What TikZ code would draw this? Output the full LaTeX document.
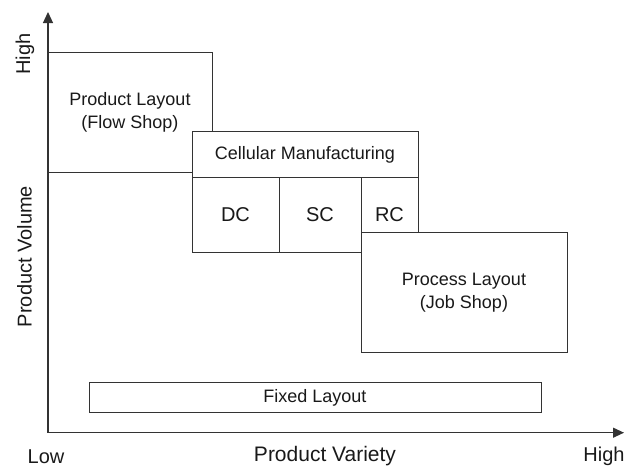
\documentclass[tikz,border=0pt]{standalone}
\usepackage{fontspec}
\setmainfont{Liberation Sans}
\usetikzlibrary{arrows.meta}
\tikzset{
  box/.style={draw=black!80, line width=1pt, fill=white, inner sep=0pt, outer sep=0pt, align=center,
    font=\fontsize{18}{23}\selectfont, text=black!90},
  cell/.style={box, font=\fontsize{20}{24}\selectfont},
  axis/.style={draw=black!80, line width=1.1pt, -{Triangle[length=11pt,width=10pt]}},
  lab/.style={font=\fontsize{20}{24}\selectfont, text=black!90, inner sep=0pt},
}
\begin{document}
\begin{tikzpicture}[x=1pt,y=-1pt]
\useasboundingbox (0,0) rectangle (638,466);
% axes
\coordinate (O) at (48,432.7);
\coordinate (ytip) at (48,12);
\coordinate (xtip) at (624,432.7);
\draw[axis] (O) -- (ytip);
\draw[axis] (O) -- (xtip);
% boxes
\node[box, minimum width=164pt, minimum height=120pt] (prod) at (130,112) {Product Layout\\(Flow Shop)};
\node[box, minimum width=226pt, minimum height=45.3pt] (cell) at (305,154.4) {Cellular Manufacturing};
\node[cell, minimum width=87pt, minimum height=75.7pt] (dc) at (235.5,214.9) {DC};
\node[cell, minimum width=82pt, minimum height=75.7pt] (sc) at (320,214.9) {SC};
\node[cell, minimum width=57pt, minimum height=75.7pt] (rc) at (389.5,214.9) {RC};
\node[box, minimum width=206pt, minimum height=119.6pt] (proc) at (464,292.5) {Process Layout\\(Job Shop)};
\node[box, minimum width=452pt, minimum height=30pt] (fixed) at (315,397.7) {Fixed Layout};
% labels
\node[lab] (low) at (46,456.5) {Low};
\node[lab, font=\fontsize{21}{25}\selectfont] (pv) at (325,456.5) {Product Variety};
\node[lab] (xhigh) at (604,456.5) {High};
\node[lab, rotate=90] (yhigh) at (25,54) {High};
\node[lab, rotate=90] (pvol) at (24.5,256.5) {Product Volume};
\end{tikzpicture}
\end{document}
